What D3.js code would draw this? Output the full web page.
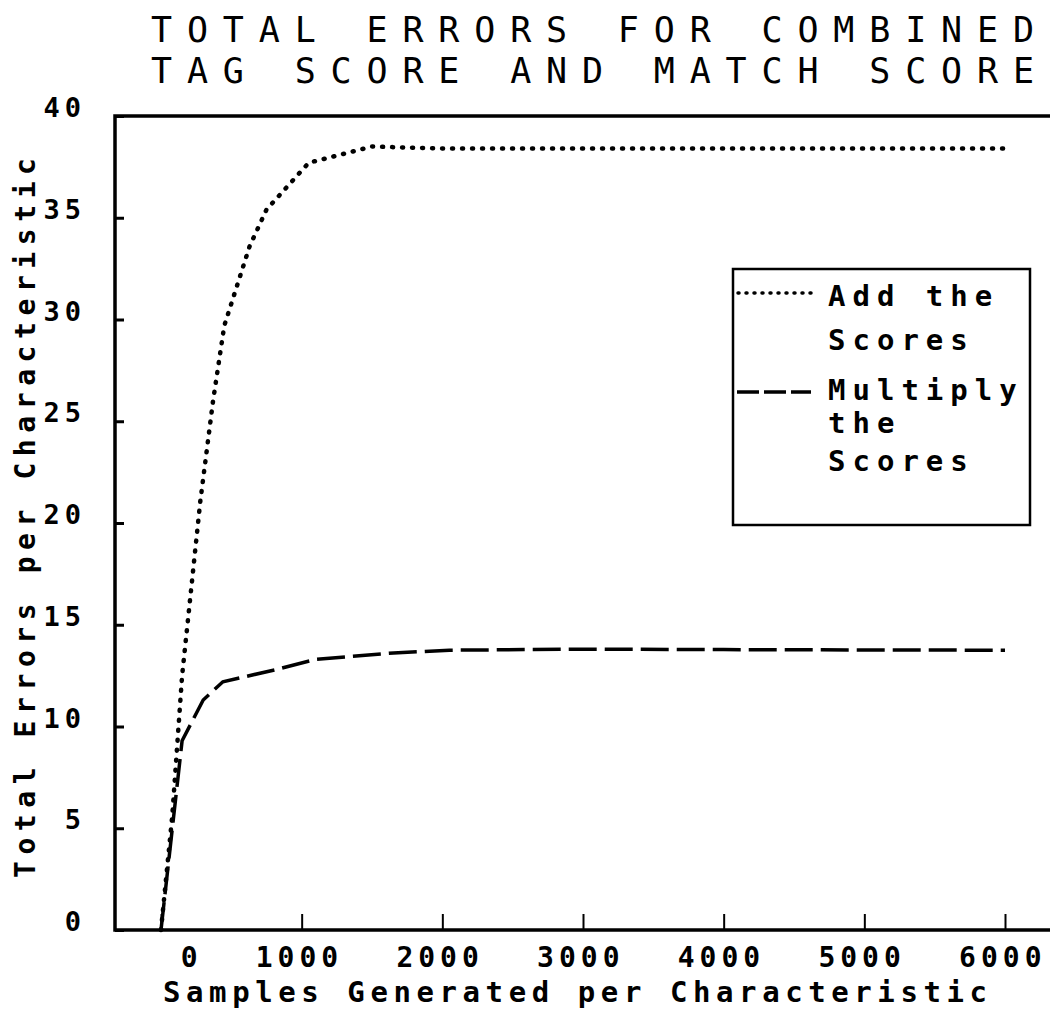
<!DOCTYPE html>
<html>
<head>
<meta charset="utf-8">
<script src="https://cdn.jsdelivr.net/npm/d3@7"></script>
<style>
  body { margin: 0; background: #fff; }
  svg { display: block; }
</style>
</head>
<body>
<div id="chart"></div>
<script>
// Data
var addSamples = [0, 80, 150, 200, 280, 370, 450, 630, 750, 1050, 1500, 2000, 3000, 4000, 5000, 6000];
var addErrors  = [0, 5.6, 12.5, 15.8, 21.1, 26.0, 29.7, 33.6, 35.4, 37.7, 38.5, 38.4, 38.4, 38.4, 38.4, 38.4];

var mulSamples = [0, 150, 300, 440, 820, 1100, 1620, 2050, 3000, 4000, 5000, 6000];
var mulErrors  = [0, 9.3, 11.3, 12.2, 12.8, 13.3, 13.6, 13.75, 13.8, 13.78, 13.76, 13.75];

var xTicks = [0, 1000, 2000, 3000, 4000, 5000, 6000];
var yTicks = [0, 5, 10, 15, 20, 25, 30, 35, 40];

var titleLines = ['TOTAL ERRORS FOR COMBINED', 'TAG SCORE AND MATCH SCORE'];
var legendItems = [
  {name: 'Add the Scores', lines: ['Add the', 'Scores']},
  {name: 'Multiply the Scores', lines: ['Multiply', 'the', 'Scores']}
];

var W = 1050, H = 1016;
var plotFont = '"DejaVu Sans Mono", monospace';

var svg = d3.select('#chart').append('svg')
    .attr('width', W)
    .attr('height', H);

// scales: the frame runs from x=115 to the right edge of the page
var x = d3.scaleLinear().domain([0, 6000]).range([161, 1005]);
var y = d3.scaleLinear().domain([0, 40]).range([930, 116]);
var left = 115, right = W;

// title, two lines
svg.selectAll('.title')
    .data(titleLines)
  .enter().append('text')
    .attr('class', 'title')
    .attr('x', 151)
    .attr('y', function(d, i) { return 42 + i * 41; })
    .attr('textLength', 883)
    .attr('lengthAdjust', 'spacing')
    .style('font-family', plotFont)
    .style('font-size', '35px')
    .attr('fill', '#000')
    .text(function(d) { return d; });

// x axis (ticks point up into the plot)
var gx = svg.append('g')
    .attr('transform', 'translate(0,' + y(0) + ')')
    .call(d3.axisBottom(x)
      .tickValues(xTicks)
      .tickSize(-16)
      .tickSizeOuter(0)
      .tickFormat(d3.format('d')));
gx.select('.domain').remove();
gx.selectAll('.tick line').attr('stroke', '#000').attr('stroke-width', 2);
gx.selectAll('.tick text')
    .attr('x', 41)
    .attr('y', 37)
    .attr('dy', null)
    .style('text-anchor', 'end')
    .style('font-family', plotFont)
    .style('font-weight', 'bold')
    .style('font-size', '28px')
    .style('letter-spacing', '5px')
    .attr('fill', '#000');

// y axis ticks (pointing right into the plot), labels drawn separately
var gy = svg.append('g')
    .attr('transform', 'translate(' + left + ',0)')
    .call(d3.axisLeft(y)
      .tickValues(yTicks)
      .tickSize(-9)
      .tickSizeOuter(0)
      .tickFormat(''));
gy.select('.domain').remove();
gy.selectAll('.tick line').attr('stroke', '#000').attr('stroke-width', 3);

svg.selectAll('.ylab')
    .data(yTicks)
  .enter().append('text')
    .attr('class', 'ylab')
    .attr('x', 86)
    .attr('y', function(d) { return y(d) + 1; })
    .style('text-anchor', 'end')
    .style('font-family', plotFont)
    .style('font-weight', 'bold')
    .style('font-size', '27px')
    .style('letter-spacing', '5px')
    .attr('fill', '#000')
    .text(function(d) { return d; });

// frame: top, left, bottom
svg.append('path')
    .attr('d', 'M' + right + ',' + y(40) + 'H' + left + 'V' + y(0) + 'H' + right)
    .attr('fill', 'none')
    .attr('stroke', '#000')
    .attr('stroke-width', 3.5);

// axis labels
svg.append('text')
    .attr('x', 163)
    .attr('y', 1002)
    .attr('textLength', 824)
    .attr('lengthAdjust', 'spacing')
    .style('font-family', plotFont)
    .style('font-weight', 'bold')
    .style('font-size', '29px')
    .text('Samples Generated per Characteristic');

svg.append('text')
    .attr('transform', 'translate(35,878) rotate(-90)')
    .attr('x', 0)
    .attr('y', 0)
    .attr('textLength', 720)
    .attr('lengthAdjust', 'spacing')
    .style('font-family', plotFont)
    .style('font-weight', 'bold')
    .style('font-size', '28px')
    .text('Total Errors per Characteristic');

// lines
var lineFn = d3.line()
    .x(function(d) { return x(d[0]); })
    .y(function(d) { return y(d[1]); });

var addData = addSamples.map(function(s, i) { return [s, addErrors[i]]; });
var mulData = mulSamples.map(function(s, i) { return [s, mulErrors[i]]; });

svg.append('path')
    .datum(mulData)
    .attr('fill', 'none')
    .attr('stroke', '#000')
    .attr('stroke-width', 3.5)
    .attr('stroke-dasharray', '28,8')
    .attr('d', lineFn);

svg.append('path')
    .datum(addData)
    .attr('fill', 'none')
    .attr('stroke', '#000')
    .attr('stroke-width', 4.5)
    .attr('stroke-linecap', 'round')
    .attr('stroke-dasharray', '1,9')
    .attr('d', lineFn);

// legend
var legend = svg.append('g');
legend.append('rect')
    .attr('x', 733)
    .attr('y', 269)
    .attr('width', 297)
    .attr('height', 256)
    .attr('fill', '#fff')
    .attr('stroke', '#000')
    .attr('stroke-width', 2.5);

var sampleY = [293, 392];
var textY = [[306, 350], [400, 433, 471]];

legend.append('line')
    .attr('x1', 738).attr('x2', 811)
    .attr('y1', sampleY[0]).attr('y2', sampleY[0])
    .attr('stroke', '#000')
    .attr('stroke-width', 3.5)
    .attr('stroke-linecap', 'round')
    .attr('stroke-dasharray', '1,7');

legend.append('line')
    .attr('x1', 737).attr('x2', 811)
    .attr('y1', sampleY[1]).attr('y2', sampleY[1])
    .attr('stroke', '#000')
    .attr('stroke-width', 3.5)
    .attr('stroke-dasharray', '22,5');

legendItems.forEach(function(item, k) {
  legend.selectAll('.leg' + k)
      .data(item.lines)
    .enter().append('text')
      .attr('x', 828)
      .attr('y', function(d, i) { return textY[k][i]; })
      .style('font-family', plotFont)
      .style('font-weight', 'bold')
      .style('font-size', '29px')
      .style('letter-spacing', '7px')
      .text(function(d) { return d; });
});
</script>
</body>
</html>
